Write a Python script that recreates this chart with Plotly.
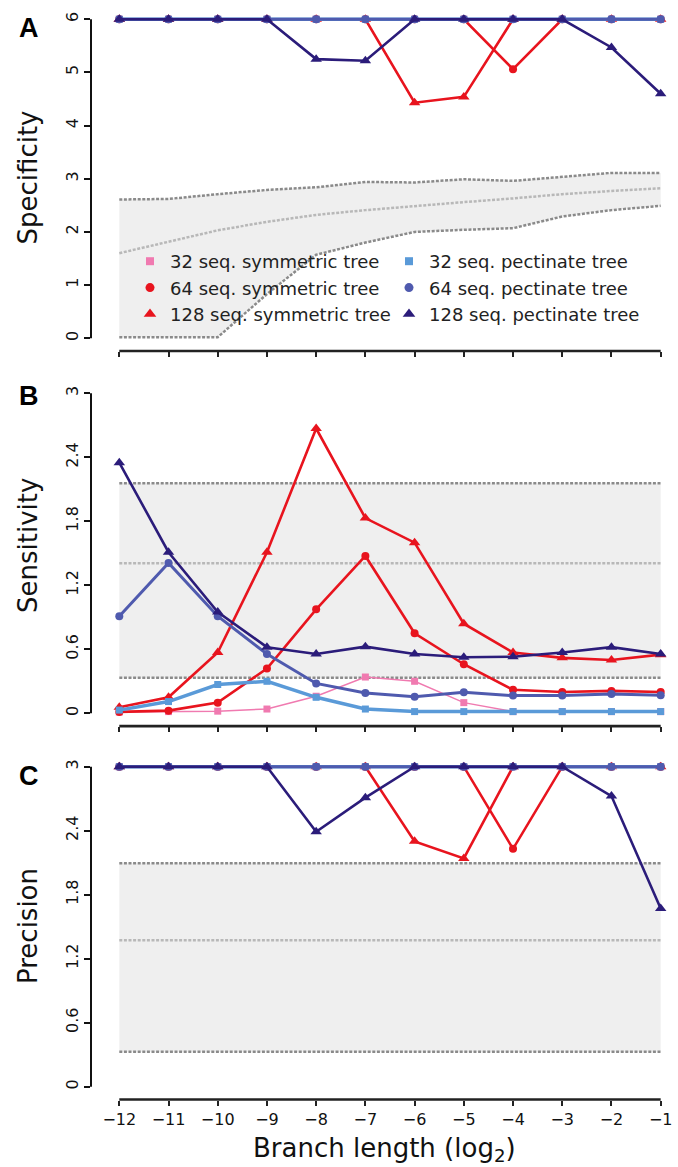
import plotly.graph_objects as go

# ---------------- data ----------------
x = [-12, -11, -10, -9, -8, -7, -6, -5, -4, -3, -2, -1]
x_ticklabels = ["\u221212", "\u221211", "\u221210", "\u22129", "\u22128", "\u22127",
                "\u22126", "\u22125", "\u22124", "\u22123", "\u22122", "\u22121"]

series_names = ["32 seq. symmetric tree", "64 seq. symmetric tree", "128 seq. symmetric tree",
                "32 seq. pectinate tree", "64 seq. pectinate tree", "128 seq. pectinate tree"]

# Panel A: Specificity
spec_32sym = [6, 6, 6, 6, 6, 6, 6, 6, 6, 6, 6, 6]
spec_64sym = [6, 6, 6, 6, 6, 6, 6, 6, 5.06, 6, 6, 6]
spec_128sym = [6, 6, 6, 6, 6, 6, 4.43, 4.54, 6, 6, 6, 6]
spec_32pec = [6, 6, 6, 6, 6, 6, 6, 6, 6, 6, 6, 6]
spec_64pec = [6, 6, 6, 6, 6, 6, 6, 6, 6, 6, 6, 6]
spec_128pec = [6, 6, 6, 6, 5.25, 5.22, 6, 6, 6, 6, 5.47, 4.6]
spec_band_upper = [2.61, 2.62, 2.71, 2.79, 2.84, 2.94, 2.93, 2.99, 2.96, 3.03, 3.11, 3.11]
spec_band_mid = [1.60, 1.81, 2.03, 2.19, 2.32, 2.41, 2.49, 2.56, 2.63, 2.71, 2.77, 2.82]
spec_band_lower = [0.02, 0.02, 0.02, 0.83, 1.57, 1.80, 2.00, 2.04, 2.07, 2.29, 2.41, 2.49]

# Panel B: Sensitivity
sens_32sym = [0.012, 0.016, 0.02, 0.04, 0.16, 0.34, 0.30, 0.10, 0.016, 0.016, 0.016, 0.016]
sens_64sym = [0.013, 0.025, 0.10, 0.42, 0.975, 1.475, 0.75, 0.46, 0.22, 0.20, 0.21, 0.20]
sens_128sym = [0.056, 0.15, 0.57, 1.51, 2.67, 1.83, 1.60, 0.84, 0.57, 0.52, 0.50, 0.55]
sens_32pec = [0.03, 0.11, 0.27, 0.30, 0.15, 0.04, 0.016, 0.016, 0.016, 0.016, 0.016, 0.016]
sens_64pec = [0.91, 1.41, 0.91, 0.556, 0.28, 0.19, 0.156, 0.197, 0.166, 0.166, 0.18, 0.17]
sens_128pec = [2.35, 1.51, 0.95, 0.62, 0.556, 0.625, 0.556, 0.525, 0.53, 0.57, 0.62, 0.556]
sens_band_upper = [2.156] * 12
sens_band_mid = [1.406] * 12
sens_band_lower = [0.334] * 12

# Panel C: Precision
prec_32sym = [3, 3, 3, 3, 3, 3, 3, 3, 3, 3, 3, 3]
prec_64sym = [3, 3, 3, 3, 3, 3, 3, 3, 2.23, 3, 3, 3]
prec_128sym = [3, 3, 3, 3, 3, 3, 2.30, 2.14, 3, 3, 3, 3]
prec_32pec = [3, 3, 3, 3, 3, 3, 3, 3, 3, 3, 3, 3]
prec_64pec = [3, 3, 3, 3, 3, 3, 3, 3, 3, 3, 3, 3]
prec_128pec = [3, 3, 3, 3, 2.39, 2.71, 3, 3, 3, 3, 2.725, 1.67]
prec_band_upper = [2.094] * 12
prec_band_mid = [1.372] * 12
prec_band_lower = [0.328] * 12

spec_ticks = [0, 1, 2, 3, 4, 5, 6]
spec_ticklabels = ["0", "1", "2", "3", "4", "5", "6"]
sp_ticks = [0, 0.6, 1.2, 1.8, 2.4, 3]
sp_ticklabels = ["0", "0.6", "1.2", "1.8", "2.4", "3"]

panel_titles = ["Specificity", "Sensitivity", "Precision"]
panel_letters = ["A", "B", "C"]
x_title = "Branch length (log<sub>2</sub>)"

# ---------------- styles ----------------
W, H = 678, 1167
FONT = "DejaVu Sans"
colors = ["#F07AB0", "#E8141E", "#E8141E", "#5A9AD8", "#4F5AAE", "#2B1C7A"]
symbols = ["square", "circle", "triangle-up", "square", "circle", "triangle-up"]
msizes = [7, 8, 10, 7, 8, 10]
lwidths = [1.5, 2.6, 2.6, 3.5, 3.0, 2.6]
band_fill = "#EFEFEF"
dark_dot = "#8A8A8A"
light_dot = "#B8B8B8"

panels = [
    dict(data=[spec_32sym, spec_64sym, spec_128sym, spec_32pec, spec_64pec, spec_128pec],
         band=(spec_band_lower, spec_band_mid, spec_band_upper),
         yrange=[-0.24, 6.24], ticks=spec_ticks, ticktext=spec_ticklabels,
         px=(6.5, 351.0), title_y=177.5, letter_y=28.5),
    dict(data=[sens_32sym, sens_64sym, sens_128sym, sens_32pec, sens_64pec, sens_128pec],
         band=(sens_band_lower, sens_band_mid, sens_band_upper),
         yrange=[-0.12, 3.12], ticks=sp_ticks, ticktext=sp_ticklabels,
         px=(380.5, 726.1), title_y=546, letter_y=396),
    dict(data=[prec_32sym, prec_64sym, prec_128sym, prec_32pec, prec_64pec, prec_128pec],
         band=(prec_band_lower, prec_band_mid, prec_band_upper),
         yrange=[-0.12, 3.12], ticks=sp_ticks, ticktext=sp_ticklabels,
         px=(753.9, 1099.5), title_y=926, letter_y=776),
]

fig = go.Figure()
layout_axes = {}
shapes = []
annotations = []
x_dom = [91 / W, 1.0]
x_range = [-12.575, -0.648]

for i, p in enumerate(panels):
    sfx = "" if i == 0 else str(i + 1)
    xa, ya = "x" + sfx, "y" + sfx
    lower, mid, upper = p["band"]
    fig.add_trace(go.Scatter(x=x, y=lower, mode="lines", xaxis=xa, yaxis=ya,
                             line=dict(color=dark_dot, width=2.5, dash="3px,1.6px"),
                             showlegend=False, hoverinfo="skip"))
    fig.add_trace(go.Scatter(x=x, y=upper, mode="lines", xaxis=xa, yaxis=ya,
                             fill="tonexty", fillcolor=band_fill,
                             line=dict(color=dark_dot, width=2.5, dash="3px,1.6px"),
                             showlegend=False, hoverinfo="skip"))
    fig.add_trace(go.Scatter(x=x, y=mid, mode="lines", xaxis=xa, yaxis=ya,
                             line=dict(color=light_dot, width=2.5, dash="3px,1.6px"),
                             showlegend=False, hoverinfo="skip"))
    for k, ys in enumerate(p["data"]):
        fig.add_trace(go.Scatter(
            x=x, y=ys, mode="lines+markers", xaxis=xa, yaxis=ya, name=series_names[k],
            line=dict(color=colors[k], width=lwidths[k]),
            marker=dict(symbol=symbols[k], size=msizes[k], color=colors[k], line=dict(width=0)),
            showlegend=False))

    top_px, bot_px = p["px"]
    layout_axes["xaxis" + sfx] = dict(
        domain=x_dom, range=x_range, anchor=ya, tickmode="array", tickvals=x,
        ticktext=x_ticklabels, showticklabels=(i == 2), ticks="outside", ticklen=5,
        tickwidth=2, tickcolor="#222222", showgrid=False, zeroline=False, showline=False,
        tickfont=dict(size=16, color="#111111", family=FONT), fixedrange=True)
    layout_axes["yaxis" + sfx] = dict(
        domain=[1 - bot_px / H, 1 - top_px / H], range=p["yrange"], anchor=xa,
        tickmode="array", tickvals=p["ticks"], ticktext=p["ticktext"], tickangle=-90,
        ticks="outside", ticklen=6, tickwidth=2, tickcolor="#111111",
        showgrid=False, zeroline=False, showline=False,
        tickfont=dict(size=16, color="#111111", family=FONT), fixedrange=True)
    # y-axis line (R style, spans tick range only)
    shapes.append(dict(type="line", xref=xa + " domain", yref=ya, x0=0, x1=0,
                       y0=p["ticks"][0], y1=p["ticks"][-1],
                       line=dict(color="#111111", width=2)))
    # x-axis bar (R style, spans tick range only)
    shapes.append(dict(type="line", xref=xa, yref=ya + " domain", x0=x[0], x1=x[-1],
                       y0=0, y1=0, line=dict(color="#222222", width=2.6)))
    annotations.append(dict(text=panel_titles[i], xref="paper", yref="paper",
                            x=28 / W, y=1 - p["title_y"] / H, textangle=-90,
                            showarrow=False, xanchor="center", yanchor="middle",
                            font=dict(size=26, color="#111111", family=FONT)))
    annotations.append(dict(text=panel_letters[i], xref="paper", yref="paper",
                            x=29 / W, y=1 - p["letter_y"] / H, showarrow=False,
                            xanchor="center", yanchor="middle",
                            font=dict(size=27, color="#000000", family="Liberation Sans",
                                      weight="bold")))

annotations.append(dict(text=x_title, xref="paper", yref="paper", x=384 / W, y=1 - 1149 / H,
                        showarrow=False, xanchor="center", yanchor="middle",
                        font=dict(size=26, color="#111111", family=FONT)))

# legend-only entries (markers only, like the reference)
for k in range(6):
    fig.add_trace(go.Scatter(
        x=[None], y=[None], mode="markers", name=series_names[k],
        marker=dict(symbol=symbols[k], size=msizes[k] + 1, color=colors[k]),
        legend="legend" if k < 3 else "legend2", showlegend=True, hoverinfo="skip"))

legend_common = dict(xanchor="left", yanchor="top", bgcolor="rgba(0,0,0,0)",
                     font=dict(size=18, color="#222222", family=FONT), traceorder="normal",
                     itemwidth=30, tracegroupgap=0, borderwidth=0)
fig.update_layout(
    width=W, height=H, margin=dict(l=0, r=0, t=0, b=0),
    paper_bgcolor="white", plot_bgcolor="white",
    font=dict(family=FONT, color="#111111"),
    shapes=shapes, annotations=annotations,
    legend=dict(x=130 / W, y=1 - 243 / H, **legend_common),
    legend2=dict(x=389 / W, y=1 - 243 / H, **legend_common),
    **layout_axes)

fig.write_html("out.html")
